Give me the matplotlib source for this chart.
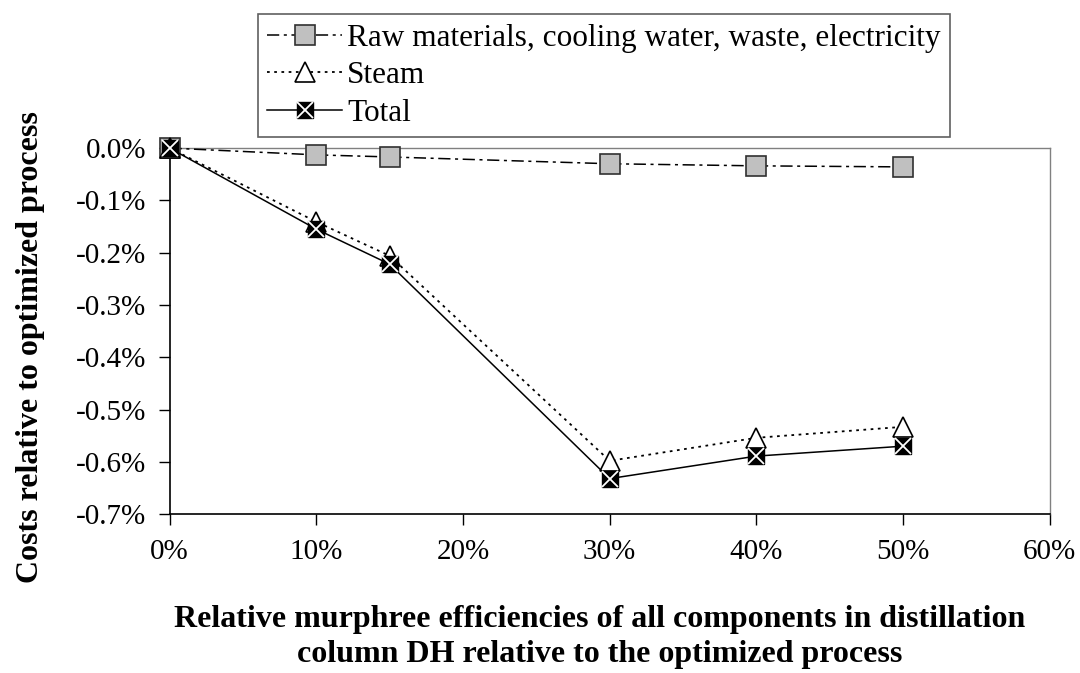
import matplotlib
matplotlib.use("Agg")
import matplotlib.pyplot as plt
from matplotlib.ticker import FuncFormatter

plt.rcParams['font.family'] = ['Liberation Serif', 'DejaVu Serif']

# Relative Murphree efficiency change (%) and cost changes relative to optimized process (%)
efficiency = [0, 10, 15, 30, 40, 50]
raw_materials = [0.0, -0.013, -0.017, -0.030, -0.034, -0.036]
steam = [0.0, -0.141, -0.206, -0.598, -0.554, -0.533]
total = [0.0, -0.155, -0.222, -0.632, -0.589, -0.570]

x_ticks = [0, 10, 20, 30, 40, 50, 60]
y_ticks = [0.0, -0.1, -0.2, -0.3, -0.4, -0.5, -0.6, -0.7]

fig = plt.figure(figsize=(10.8, 6.73), dpi=100)
ax = fig.add_axes([0.157, 0.236, 0.815, 0.544])

l_raw, = ax.plot(efficiency, raw_materials, linestyle=(0, (8, 3, 2, 3)), color='black', lw=1.1,
                 marker='s', markersize=15, markerfacecolor='#c0c0c0',
                 markeredgecolor='#303030', markeredgewidth=1.2, zorder=3, clip_on=False)
l_steam, = ax.plot(efficiency, steam, linestyle=(0, (1.5, 2.5)), color='black', lw=1.3,
                   marker='^', markersize=15, markerfacecolor='white',
                   markeredgecolor='black', markeredgewidth=1.2, zorder=4, clip_on=False)
l_total, = ax.plot(efficiency, total, linestyle='-', color='black', lw=1.1,
                   marker='s', markersize=12, markerfacecolor='black',
                   markeredgecolor='black', markeredgewidth=1.0, zorder=5, clip_on=False)
l_total_x, = ax.plot(efficiency, total, linestyle='none', marker='x', markersize=11,
                     markeredgecolor='white', markeredgewidth=1.3, zorder=6, clip_on=False)

ax.set_xlim(0, 60)
ax.set_ylim(-0.7, 0.0)
ax.set_xticks(x_ticks)
ax.set_yticks(y_ticks)
ax.xaxis.set_major_formatter(FuncFormatter(lambda v, p: f"{v:.0f}%"))
ax.yaxis.set_major_formatter(FuncFormatter(lambda v, p: f"{v:.1f}%"))
ax.tick_params(axis='both', direction='out', length=8, width=1.0, labelsize=21)
ax.tick_params(axis='x', pad=10)
ax.tick_params(axis='y', pad=9)

for side in ('top', 'right'):
    ax.spines[side].set_color('#808080')
    ax.spines[side].set_linewidth(1.0)
for side in ('left', 'bottom'):
    ax.spines[side].set_color('black')
    ax.spines[side].set_linewidth(1.2)
for lab in ax.get_xticklabels() + ax.get_yticklabels():
    lab.set_clip_on(False)

ax.set_ylabel("Costs relative to optimized process", fontsize=23, fontweight='bold')
ax.yaxis.set_label_coords(-0.141, 0.456)
fig.text(0.555, 0.0535,
         "Relative murphree efficiencies of all components in distillation\n"
         "column DH relative to the optimized process",
         ha='center', va='center', fontsize=23, fontweight='bold', linespacing=1.3)

leg = fig.legend([l_raw, l_steam, (l_total, l_total_x)],
                 ["Raw materials, cooling water, waste, electricity", "Steam", "Total"],
                 loc='upper left', bbox_to_anchor=(0.239, 0.979), fontsize=22.5,
                 frameon=True, fancybox=False, edgecolor='#606060', framealpha=1,
                 handlelength=2.4, handletextpad=0.15, borderpad=0.3, labelspacing=0.28,
                 borderaxespad=0)
leg.get_frame().set_linewidth(1.2)
leg.set_zorder(10)

fig.savefig("out.png", dpi=100)
